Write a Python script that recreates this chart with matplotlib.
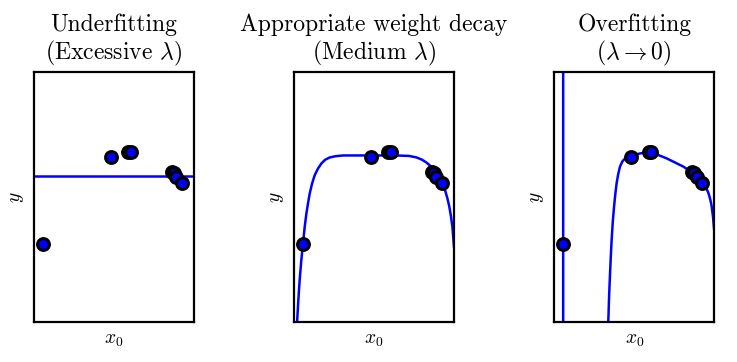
import matplotlib
matplotlib.use("Agg")
import matplotlib.pyplot as plt
import numpy as np

plt.rcParams['font.family'] = 'cmr10'
plt.rcParams['mathtext.fontset'] = 'cm'
plt.rcParams['axes.unicode_minus'] = False

# training points (same in every panel), axes units 0..1
x_pts = [0.058, 0.483, 0.590, 0.607, 0.863, 0.874, 0.890, 0.927]
y_pts = [0.314, 0.662, 0.679, 0.679, 0.600, 0.595, 0.581, 0.557]

# fitted curves
x_under = [0.0, 1.0]
y_under = [0.584, 0.584]

x_med = [0.012, 0.019, 0.027, 0.035, 0.045, 0.056, 0.066, 0.077, 0.088, 0.098,
         0.113, 0.129, 0.150, 0.171, 0.195, 0.223, 0.260, 0.307, 0.474, 0.641,
         0.720, 0.766, 0.800, 0.829, 0.851, 0.871, 0.892, 0.912, 0.929, 0.944,
         0.958, 0.971, 0.981, 0.990, 1.0]
y_med = [-0.1, 0.0, 0.090, 0.167, 0.245, 0.314, 0.378, 0.434, 0.478, 0.515,
         0.555, 0.588, 0.615, 0.635, 0.650, 0.659, 0.664, 0.667, 0.667, 0.667,
         0.665, 0.659, 0.650, 0.638, 0.626, 0.611, 0.595, 0.575, 0.553, 0.528,
         0.497, 0.461, 0.423, 0.381, 0.301]

x_over = [0.0555, 0.056, 0.0565, 0.335, 0.338, 0.343, 0.349, 0.354, 0.359, 0.366,
          0.374, 0.382, 0.390, 0.400, 0.411, 0.426, 0.443, 0.460, 0.480, 0.536,
          0.599, 0.704, 0.808, 0.871, 0.905, 0.933, 0.950, 0.965, 0.976, 0.985,
          0.993, 1.0]
y_over = [20.0, 0.314, -20.0, -1.0, 0.0, 0.100, 0.194, 0.265, 0.328, 0.400,
          0.461, 0.512, 0.555, 0.592, 0.622, 0.643, 0.655, 0.662, 0.666, 0.675,
          0.682, 0.655, 0.622, 0.595, 0.578, 0.555, 0.537, 0.515, 0.490, 0.461,
          0.420, 0.368]

titles = ["Underfitting\n(Excessive $\\lambda$)",
          "Appropriate weight decay\n(Medium $\\lambda$)",
          "Overfitting\n($\\lambda \\to 0$)"]
curves = [(x_under, y_under), (x_med, y_med), (x_over, y_over)]
lefts = [0.046, 0.399, 0.752]

fig = plt.figure(figsize=(7.37, 3.62), dpi=100)
for left, title, (cx, cy) in zip(lefts, titles, curves):
    ax = fig.add_axes([left, 0.111, 0.217, 0.689])
    ax.plot(cx, cy, color='#0000ff', lw=1.8, zorder=2)
    ax.plot(x_pts, y_pts, 'o', color='#0000ff', markeredgecolor='black',
            markeredgewidth=2.2, markersize=8.5, zorder=3)
    ax.set_xlim(0, 1)
    ax.set_ylim(0, 1)
    ax.set_xticks([])
    ax.set_yticks([])
    for s in ax.spines.values():
        s.set_linewidth(1.6)
    ax.set_title(title, fontsize=17, linespacing=1.15, pad=9)
    ax.set_xlabel('$x_0$', fontsize=14, labelpad=7)
    ax.set_ylabel('$y$', fontsize=14, labelpad=6)

fig.savefig('out.png', dpi=100)
